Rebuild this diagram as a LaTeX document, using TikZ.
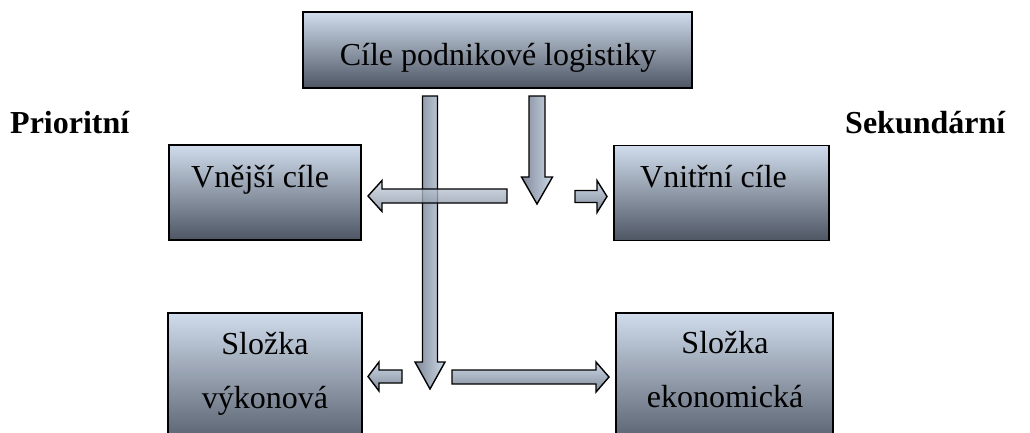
\documentclass[tikz,border=0pt]{standalone}
\usepackage{fontspec}
\setmainfont{Liberation Serif}
\definecolor{boxtop}{RGB}{208,220,236}
\definecolor{boxbot}{RGB}{78,86,100}
\definecolor{arrlight}{RGB}{205,216,230}
\definecolor{arrdark}{RGB}{128,138,154}
\tikzset{
  box/.style={draw=black, line width=1.8pt, top color=boxtop, bottom color=boxbot,
    rectangle, inner sep=0pt},
  boxtext/.style={inner sep=0pt, anchor=base, font=\fontsize{32}{38}\selectfont},
  sidelabel/.style={inner sep=0pt, anchor=base west, font=\fontsize{32}{38}\selectfont\bfseries},
  harrowshape/.style={draw=black, line width=1.4pt, top color=arrlight, bottom color=arrdark, line join=miter},
  varrowshape/.style={draw=black, line width=1.4pt, left color=arrdark, right color=arrlight, line join=miter}
}
% horizontal block arrow: [style] {tail x}{tip x}{y}{shaft half}{head half}{head length}
\newcommand\harr[7][]{%
  \pgfmathsetmacro\hb{#3+((#2>#3) ? #7 : -#7)}%
  \shade[harrowshape,#1] (#2,#4-#5) -- (\hb,#4-#5) -- (\hb,#4-#6) -- (#3,#4)
    -- (\hb,#4+#6) -- (\hb,#4+#5) -- (#2,#4+#5) -- cycle;}
% vertical (down) block arrow: [style] {x}{tail y}{tip y}{shaft half}{head half}{head length}
\newcommand\varr[7][]{%
  \pgfmathsetmacro\vb{#4-#7}%
  \shade[varrowshape,#1] (#2-#5,#3) -- (#2-#5,\vb) -- (#2-#6,\vb) -- (#2,#4)
    -- (#2+#6,\vb) -- (#2+#5,\vb) -- (#2+#5,#3) -- cycle;}
\begin{document}
\begin{tikzpicture}[x=1pt, y=-1pt]
  \useasboundingbox (0,0) rectangle (1030,432);
  \fill[white] (0,0) rectangle (1030,432);
  \clip (0,0) rectangle (1030,432);

  % boxes
  \node[box, minimum width=389pt, minimum height=76pt] (top) at (497.5,50) {};
  \node[box, minimum width=192pt, minimum height=95pt] (ext) at (265,192.5) {};
  \node[box, minimum width=215pt, minimum height=95pt] (int) at (721.5,193) {};
  \node[box, minimum width=194pt, minimum height=140pt] (perf) at (265,383) {};
  \node[box, minimum width=217pt, minimum height=140pt] (econ) at (724.5,383) {};

  % texts
  \node[boxtext] (toptext) at (498,65) {Cíle podnikové logistiky};
  \node[boxtext, anchor=base west] (exttext) at (191,187) {Vnější cíle};
  \node[boxtext, anchor=base west] (inttext) at (640,187) {Vnitřní cíle};
  \node[boxtext] (perftext1) at (265,354) {Složka};
  \node[boxtext] (perftext2) at (265,408) {výkonová};
  \node[boxtext] (econtext1) at (725,353) {Složka};
  \node[boxtext] (econtext2) at (725,407) {ekonomická};

  \node[sidelabel] (prio) at (10,133) {Prioritní};
  \node[sidelabel] (sek) at (845,133) {Sekundární};

  % arrows
  \varr{430}{96}{389}{7.5}{15}{27}
  \harr[fill opacity=0.78]{507}{368}{196}{7}{15.5}{14}
  \varr{537}{96}{204}{8}{15.5}{27}
  \harr{575}{607}{196.5}{6}{16}{10}
  \harr{402}{368}{376.5}{6.5}{14.5}{11}
  \harr{452}{609}{377}{7}{15}{13}
\end{tikzpicture}
\end{document}
